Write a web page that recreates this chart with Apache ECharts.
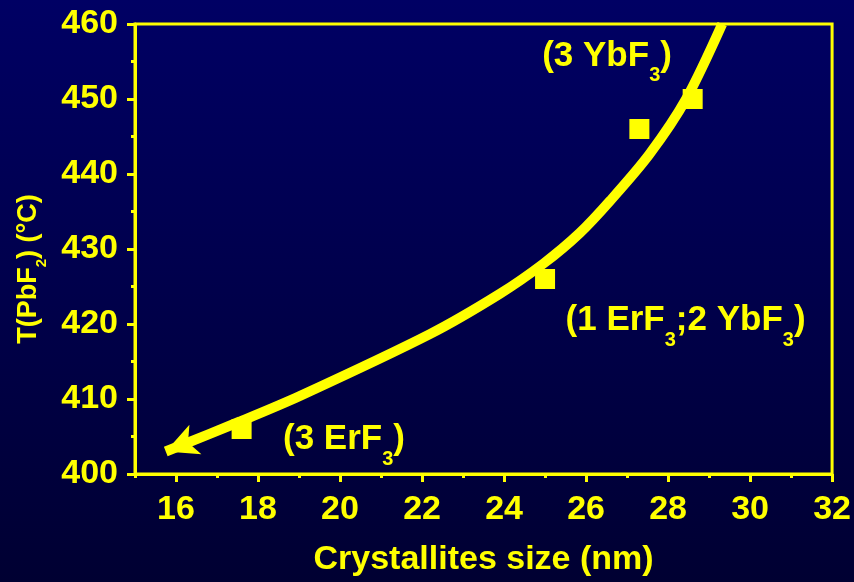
<!DOCTYPE html>
<html>
<head>
<meta charset="utf-8">
<script src="https://cdn.jsdelivr.net/npm/echarts@6/dist/echarts.min.js"></script>
<style>
  html, body { margin: 0; padding: 0; background: #000046; }
  #chart { width: 854px; height: 582px; }
</style>
</head>
<body>
<div id="chart"></div>
<script>
// Measured crystallite size vs. PbF2 crystallisation temperature
const sizeNm = [17.6, 25.0, 27.3, 28.6];
const tempC = [406, 426, 446, 450];

// Hand-drawn trend curve; the first point is the arrow tip,
// the last one sits on the top edge of the frame
const trendX = [15.75, 17.56, 19.02, 22.19, 23.89, 24.96, 25.84, 26.59, 27.54, 28.44, 29.32];
const trendY = [403.0, 407.0, 410.4, 418.65, 424.0, 428.05, 432.1, 436.45, 442.6, 450.0, 460.0];

// Composition labels: alternating plain text / subscript pieces
const noteParts = [
  ['(3 YbF', '3', ')'],
  ['(1 ErF', '3', ';2 YbF', '3', ')'],
  ['(3 ErF', '3', ')']
];
const noteX = [24.93, 25.50, 18.61];
const noteY = [455.75, 420.45, 404.6];

// Axis ranges and tick labels
const xMin = 15, xMax = 32;
const yMin = 400, yMax = 460, yStep = 10;
const xTickLabels = [16, 18, 20, 22, 24, 26, 28, 30, 32];

const YELLOW = '#ffff00';
const FONT = '"Liberation Sans", Arial, sans-serif';

// Alternate plain / subscript pieces into rich text
function richText(parts) {
  return parts.map((p, i) => (i % 2 === 0 ? '{m|' : '{s|') + p + '}').join('');
}

const noteRich = {
  m: { fontSize: 35, fontWeight: 'bold', fontFamily: FONT, color: YELLOW, lineHeight: 40 },
  s: { fontSize: 20, fontWeight: 'bold', fontFamily: FONT, color: YELLOW, lineHeight: 20, padding: [40, 0, 0, 0] }
};

const chart = echarts.init(document.getElementById('chart'), null, { renderer: 'canvas' });

const trendData = trendX.map((x, i) => {
  if (i === 0) {
    return {
      value: [x, trendY[i]],
      symbol: 'arrow',
      symbolSize: [24, 32],
      symbolRotate: 112
    };
  }
  return { value: [x, trendY[i]], symbol: 'none' };
});

chart.setOption({
  animation: false,
  backgroundColor: {
    type: 'linear', x: 0, y: 0, x2: 0, y2: 1,
    colorStops: [
      { offset: 0, color: '#000064' },
      { offset: 1, color: '#000032' }
    ]
  },
  grid: {
    left: 135, right: 21, top: 24, bottom: 103,
    show: true, borderColor: YELLOW, borderWidth: 3, backgroundColor: 'transparent'
  },
  xAxis: [
    {
      type: 'value', position: 'bottom', min: xMin, max: xMax,
      axisLine: { show: true, lineStyle: { color: YELLOW, width: 3 } },
      axisTick: { show: true, customValues: xTickLabels, length: 8, lineStyle: { color: YELLOW, width: 3 } },
      axisLabel: {
        show: true, customValues: xTickLabels, margin: 19,
        color: YELLOW, fontSize: 34, fontWeight: 'bold', fontFamily: FONT
      },
      splitLine: { show: false },
      name: 'Crystallites size (nm)',
      nameLocation: 'middle', nameGap: 69,
      nameTextStyle: { color: YELLOW, fontSize: 34, fontWeight: 'bold', fontFamily: FONT }
    },
    {
      // minor ticks at every whole nanometre
      type: 'value', position: 'bottom', min: xMin, max: xMax, interval: 1,
      axisLine: { show: false },
      axisTick: { show: true, length: 4, lineStyle: { color: YELLOW, width: 3 } },
      axisLabel: { show: false },
      splitLine: { show: false }
    }
  ],
  yAxis: [
    {
      type: 'value', position: 'left', min: yMin, max: yMax, interval: yStep,
      axisLine: { show: true, lineStyle: { color: YELLOW, width: 3 } },
      axisTick: { show: true, length: 8, lineStyle: { color: YELLOW, width: 3 } },
      minorTick: { show: true, splitNumber: 2, length: 4, lineStyle: { color: YELLOW, width: 3 } },
      axisLabel: { margin: 17, color: YELLOW, fontSize: 34, fontWeight: 'bold', fontFamily: FONT },
      splitLine: { show: false },
      minorSplitLine: { show: false },
      name: '{m|T(PbF}{s|2}{m|) (°C)}',
      nameLocation: 'middle', nameGap: 91, nameRotate: 90,
      nameTextStyle: {
        padding: [0, 40, 0, 0],
        rich: {
          m: { fontSize: 27, fontWeight: 'bold', fontFamily: FONT, color: YELLOW, lineHeight: 30 },
          s: { fontSize: 15, fontWeight: 'bold', fontFamily: FONT, color: YELLOW, lineHeight: 14, padding: [25, 0, 0, 0] }
        }
      }
    }
  ],
  series: [
    {
      name: 'trend',
      type: 'line',
      xAxisIndex: 0,
      data: trendData,
      smooth: 0.3,
      clip: true,
      showSymbol: true,
      symbol: 'none',
      lineStyle: { color: YELLOW, width: 10, cap: 'butt' },
      itemStyle: { color: YELLOW, opacity: 1 },
      z: 3
    },
    {
      name: 'measured',
      type: 'scatter',
      xAxisIndex: 0,
      data: sizeNm.map((x, i) => [x, tempC[i]]),
      symbol: 'rect',
      symbolSize: 20,
      itemStyle: { color: YELLOW, opacity: 1 },
      z: 2
    },
    {
      name: 'notes',
      type: 'scatter',
      xAxisIndex: 0,
      data: noteX.map((x, i) => ({ value: [x, noteY[i]], label: { formatter: richText(noteParts[i]) } })),
      symbolSize: 0,
      silent: true,
      itemStyle: { opacity: 1 },
      label: {
        show: true, position: 'right', distance: 0,
        align: 'left', verticalAlign: 'middle',
        rich: noteRich
      },
      z: 4
    }
  ]
});
</script>
</body>
</html>
